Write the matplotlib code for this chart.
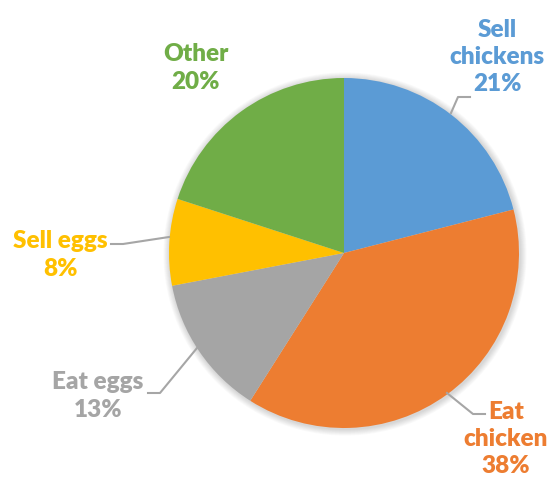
import numpy as np
import matplotlib.pyplot as plt
from matplotlib.patches import Circle

# Share of each use
labels = ["Sell\nchickens", "Eat\nchicken", "Eat eggs", "Sell eggs", "Other"]
shares = [21, 38, 13, 8, 20]
colors = ["#5B9BD5", "#ED7D31", "#A5A5A5", "#FFC000", "#70AD47"]

W, H = 549, 480
fig = plt.figure(figsize=(W / 100, H / 100), dpi=100)
ax = fig.add_axes([0, 0, 1, 1])

cx, cy, r = 344, H - 253, 175

# soft shadow behind the pie
for i in range(8):
    ax.add_patch(Circle((cx + 1, cy - 1), r + 1 + i * 0.8, color="black",
                        alpha=0.018, lw=0, zorder=0))

ax.pie(shares, colors=colors, startangle=90, counterclock=False,
       center=(cx, cy), radius=r, frame=True,
       wedgeprops=dict(linewidth=0))
ax.set_xlim(0, W)
ax.set_ylim(0, H)
ax.set_aspect("equal")
ax.axis("off")

font = dict(family=["Lato", "DejaVu Sans"], fontweight="heavy", fontsize=17.5,
            ha="center", va="center", linespacing=1.28)

# label positions in pixel coordinates (x, y from top)
label_pos = [(497, 57), (506, 439), (98, 396), (60, 255), (196, 68)]
for lab, s, c, (x, y) in zip(labels, shares, colors, label_pos):
    ax.text(x, H - y, f"{lab}\n{s}%", color=c, **font)

# leader lines
leaders = [
    [(451, 113), (458, 97), (470, 97)],
    [(447, 393), (473, 414), (485, 414)],
    [(197, 348), (160, 393), (148, 393)],
    [(169, 237), (123, 244), (111, 244)],
]
for pts in leaders:
    xs = [p[0] for p in pts]
    ys = [H - p[1] for p in pts]
    ax.plot(xs, ys, color="#A6A6A6", lw=1.5, zorder=3)

fig.savefig("out.png", dpi=100)
